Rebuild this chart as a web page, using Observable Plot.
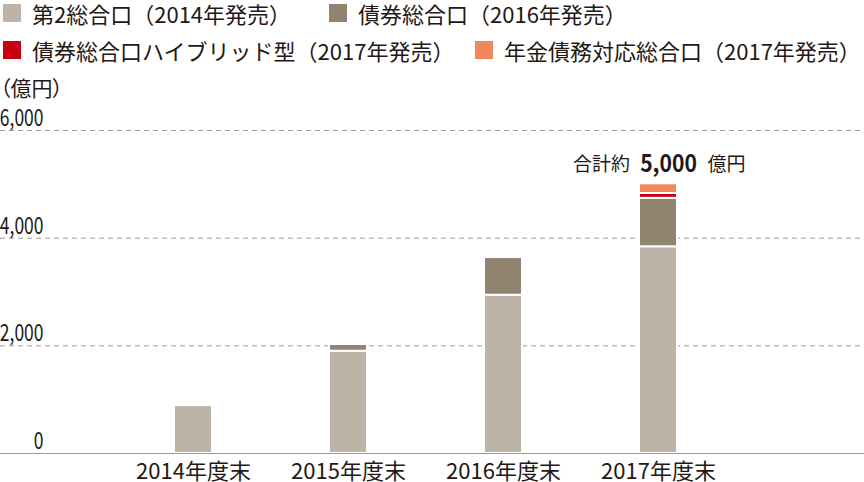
<!DOCTYPE html>
<html><head><meta charset="utf-8">
<script src="https://cdn.jsdelivr.net/npm/d3@7"></script>
<script src="https://cdn.jsdelivr.net/npm/@observablehq/plot@0.6"></script>
<style>
body{margin:0;background:#fff;font-family:"Noto Sans CJK JP",sans-serif;color:#231815;}
#wrap{position:relative;width:864px;height:482px;overflow:hidden;}
.lg{position:absolute;display:flex;align-items:center;font-size:22px;line-height:22px;white-space:nowrap;}
.sw{width:18px;height:18px;margin-right:11px;flex:none;}
#unit{position:absolute;left:0;top:77px;font-size:21px;line-height:21px;font-feature-settings:"palt";}
#chart{position:absolute;left:0;top:70px;}
</style></head><body>
<div id="wrap"><div id="legend"></div><div id="unit">（億円）</div><div id="chart"></div></div>
<script>
const categories = ["2014年度末", "2015年度末", "2016年度末", "2017年度末"];
const seriesNames = ["第2総合口（2014年発売）", "債券総合口（2016年発売）", "債券総合口ハイブリッド型（2017年発売）", "年金債務対応総合口（2017年発売）"];
const seriesColors = ["#bdb4a7", "#918370", "#c9000f", "#ef875f"];
const dai2Sogo = [890, 1900, 2940, 3840];
const saikenSogo = [0, 125, 700, 900];
const hybrid = [0, 0, 0, 90];
const nenkin = [0, 0, 0, 180];
const yTicks = [0, 2000, 4000, 6000];
const annotPrefix = "合計約";
const annotValue = "5,000";
const annotSuffix = "億円";

const seriesValues = [dai2Sogo, saikenSogo, hybrid, nenkin];
const data = [];
seriesNames.forEach((s, si) => {
  categories.forEach((c, ci) => {
    const v = seriesValues[si][ci];
    if (v > 0) data.push({category: c, series: s, value: v});
  });
});
const lastCat = categories[categories.length - 1];
const lastTotal = seriesValues.reduce((a, arr) => a + arr[arr.length - 1], 0);
const annot = [{x: lastCat, y: lastTotal}];

// legend
const legendPos = [[3, 2], [329, 2], [3, 39], [475, 39]];
const lg = document.getElementById("legend");
seriesNames.forEach((s, i) => {
  const d = document.createElement("div");
  d.className = "lg";
  d.style.left = legendPos[i][0] + "px";
  d.style.top = legendPos[i][1] + "px";
  d.innerHTML = `<span class="sw" style="background:${seriesColors[i]}"></span><span>${s}</span>`;
  lg.appendChild(d);
});

const tickFmt = d3.format(",");
const chart = Plot.plot({
  width: 864,
  height: 412,
  marginLeft: 0,
  marginRight: 0,
  marginTop: 60,
  marginBottom: 29,
  style: {fontFamily: '"Noto Sans CJK JP", sans-serif', fontSize: "20px", color: "#231815", overflow: "visible", background: "transparent"},
  x: {domain: categories, range: [55, 796], padding: 0.756, label: null},
  y: {domain: [0, 6000], label: null},
  color: {domain: seriesNames, range: seriesColors},
  marks: [
    Plot.ruleY(yTicks.filter(d => d > 0), {stroke: "#9a9a9a", strokeDasharray: "5,4", strokeWidth: 1}),
    Plot.barY(data, {x: "category", y: "value", fill: "series", stroke: "white", strokeWidth: 2}),
    Plot.ruleY([0], {stroke: "#9a9a9a", strokeWidth: 1.2}),
    Plot.axisY({ticks: yTicks, tickSize: 0, tickFormat: tickFmt, textAnchor: "end", dx: 52, dy: -12, fontSize: 23, fontVariant: "normal", label: null, color: "#231815"}),
    Plot.axisX({tickSize: 0, tickPadding: 10, fontSize: 22, label: null, color: "#231815"}),
    Plot.text(annot, {x: "x", y: "y", text: () => annotPrefix, dx: -57, dy: -19, fontSize: 19, fill: "#231815"}),
    Plot.text(annot, {x: "x", y: "y", text: () => annotValue, dx: 10, dy: -19, fontSize: 24, fontWeight: "bold", fill: "#231815"}),
    Plot.text(annot, {x: "x", y: "y", text: () => annotSuffix, dx: 68, dy: -19, fontSize: 19, fill: "#231815"})
  ]
});
document.getElementById("chart").appendChild(chart);

// condense numerals horizontally (reference uses a condensed typeface)
const tickTexts = yTicks.map(tickFmt);
d3.select(chart).selectAll("text").each(function () {
  const t = this.textContent;
  let f = null;
  if (tickTexts.includes(t)) f = 0.76;
  else if (t === annotValue) f = 0.88;
  if (f === null) return;
  const tr = this.getAttribute("transform");
  if (tr) {
    this.setAttribute("transform", tr + ` scale(${f},1)`);
  } else {
    const x = +(this.getAttribute("x") || 0);
    this.setAttribute("transform", `translate(${x},0) scale(${f},1) translate(${-x},0)`);
  }
});
</script>
</body></html>
